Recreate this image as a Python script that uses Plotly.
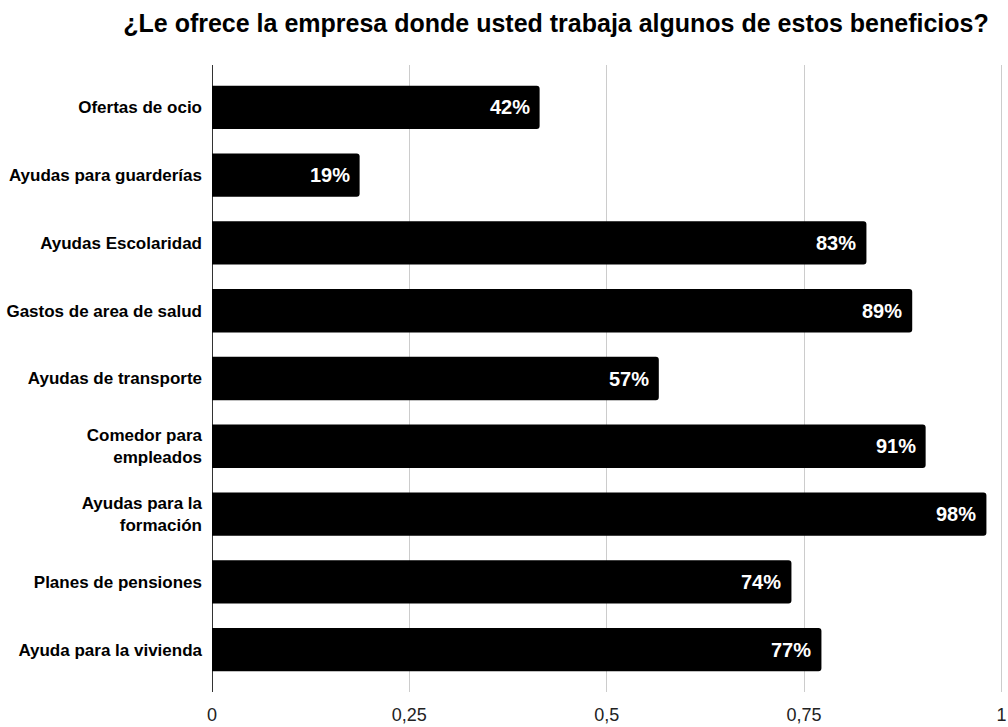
import plotly.graph_objects as go

categories = ["Ofertas de ocio", "Ayudas para guarderías", "Ayudas Escolaridad",
              "Gastos de area de salud", "Ayudas de transporte", "Comedor para<br>empleados",
              "Ayudas para la<br>formación", "Planes de pensiones", "Ayuda para la vivienda"]
values = [0.415, 0.187, 0.829, 0.887, 0.566, 0.904, 0.981, 0.734, 0.772]
labels = ["42%", "19%", "83%", "89%", "57%", "91%", "98%", "74%", "77%"]
tick_vals = [0, 0.25, 0.5, 0.75, 1]
tick_text = ["0", "0,25", "0,5", "0,75", "1"]

FONT = "Arial, Liberation Sans, sans-serif"

fig = go.Figure()
fig.add_trace(go.Bar(
    y=categories, x=values, orientation="h",
    marker=dict(color="#000000", cornerradius=3, line=dict(width=0)),
    hoverinfo="skip",
))

annotations = []
for c, v, t in zip(categories, values, labels):
    annotations.append(dict(x=v, y=c, text="<b>" + t + "</b>", showarrow=False,
                            xanchor="right", xshift=-8, yanchor="middle",
                            font=dict(family=FONT, size=20, color="#ffffff")))

n = len(categories)
fig.update_layout(
    width=1008, height=727,
    margin=dict(l=212, r=5, t=65, b=35, autoexpand=False),
    paper_bgcolor="white", plot_bgcolor="white",
    title=dict(text="<b>¿Le ofrece la empresa donde usted trabaja algunos de estos beneficios?</b>",
               x=556 / 1008, xanchor="center", y=1 - 23 / 727, yanchor="middle",
               font=dict(family=FONT, size=25, color="#000000")),
    bargap=0.36,
    showlegend=False,
    annotations=annotations,
    xaxis=dict(range=[0, 1.002], tickvals=tick_vals, ticktext=tick_text,
               showgrid=True, gridcolor="#cccccc", gridwidth=1,
               zeroline=True, zerolinecolor="#333333", zerolinewidth=1,
               showline=False, ticks="", ticklabelstandoff=10, automargin=False,
               tickfont=dict(family=FONT, size=18, color="#222222"), fixedrange=True),
    yaxis=dict(categoryorder="array", categoryarray=categories,
               range=[n - 1 + 0.625, -0.625], automargin=False,
               showgrid=False, zeroline=False, showline=False, ticks="",
               ticklabelstandoff=9,
               tickfont=dict(family=FONT, size=17, color="#000000", weight="bold"), fixedrange=True),
)

fig.write_html("out.html")
